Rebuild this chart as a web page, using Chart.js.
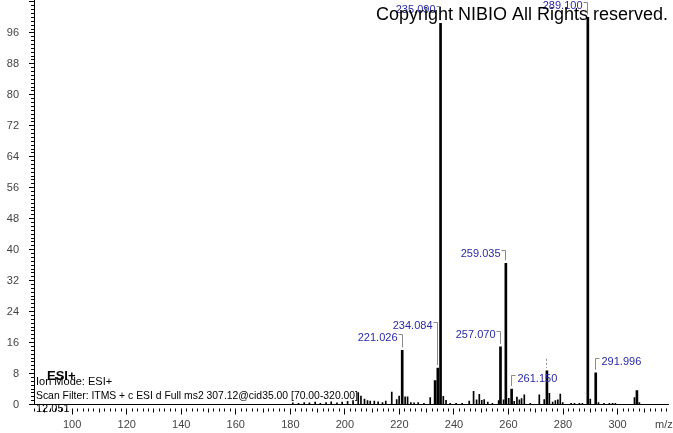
<!DOCTYPE html>
<html><head><meta charset="utf-8">
<script src="https://cdn.jsdelivr.net/npm/chart.js@4.4.0/dist/chart.umd.min.js"></script>
<style>html,body{margin:0;padding:0;background:#fff;}#wrap{width:673px;height:433px;}</style>
</head><body><div id="wrap"><canvas id="c" width="673" height="433"></canvas></div>
<script>
// ---- data ----
const majorMz  = [221.026, 233.1, 234.084, 235.090, 257.070, 259.035, 261.150, 274.1, 289.100, 291.996, 307.1];
const majorInt = [14.0,    6.2,   9.4,     98.5,    14.9,    36.5,    4.0,     8.7,   100,     8.2,     3.6];
const minorMz  = [180.9,183.0,185.1,187.0,189.1,191.0,193.1,195.0,197.1,199.0,201.0,203.0,204.9,205.9,207.2,208.3,209.3,210.8,212.2,213.8,215.0,217.2,219.0,219.9,222.1,223.0,224.2,225.4,226.9,229.0,231.3,236.1,237.1,238.6,240.8,243.0,245.6,247.2,248.3,249.3,250.2,251.1,252.4,254.1,256.4,258.2,260.1,262.1,263.1,264.0,264.8,265.8,268.0,271.3,273.1,275.0,276.2,277.2,278.1,279.0,279.9,283.0,284.2,286.0,287.1,290.0,293.0,295.0,297.0,298.2,299.2,306.2,308.0];
const minorInt = [0.4,  0.3,  0.5,  0.4,  0.6,  0.3,  0.5,  0.7,  0.4,  0.6,  0.8,  1.0,  3.1,  2.2,  1.4,  1.0,  0.9,  0.9,  0.7,  0.5,  0.9,  3.2,  1.3,  2.2,  2.0,  2.0,  0.5,  0.4,  0.5,  0.3,  1.8,  2.1,  1.1,  0.3,  0.3,  0.3,  0.9,  3.4,  1.2,  2.6,  1.1,  1.3,  0.6,  0.3,  1.0,  1.2,  1.6,  0.8,  1.9,  1.2,  1.5,  2.5,  0.3,  2.5,  1.3,  2.9,  0.6,  1.0,  1.2,  2.7,  0.5,  0.3,  0.3,  0.3,  0.3,  1.4,  0.5,  0.3,  0.3,  0.3,  0.3,  1.8,  0.5];
const yTickValues = [0, 8, 16, 24, 32, 40, 48, 56, 64, 72, 80, 88, 96];
const xTickValues = [100, 120, 140, 160, 180, 200, 220, 240, 260, 280, 300];
const peakLabelMz   = [221.026, 234.084, 235.090, 257.070, 259.035, 261.150, 289.100, 291.996];
const peakLabelInt  = [14.0, 9.4, 98.5, 14.9, 36.5, 4.0, 100, 8.2];
const peakLabelText = ['221.026','234.084','235.090','257.070','259.035','261.150','289.100','291.996'];
const stubMz = [274.1], stubInt = [8.7];
const infoLines = ['Ion Mode: ESI+', 'Scan Filter: ITMS + c ESI d Full ms2 307.12@cid35.00 [70.00-320.00]', '12.051'];
const modeText = 'ESI+';
const copyrightText = 'Copyright NIBIO All Rights reserved.';
const xUnit = 'm/z';

// ---- styles ----
const labelSide = ['left','left','left','left','left','right','left','right'];
const labelLift = [12, 42, 13, 12, 9, 10, 11, 11];
const FONT = '"Liberation Sans", Arial, sans-serif';
const BLUE = '#2a2aa6';

const extras = {
  id: 'extras',
  afterDraw(chart) {
    const ctx = chart.ctx, xs = chart.scales.x, ys = chart.scales.y, a = chart.chartArea;
    ctx.save();
    // y minor/major ticks
    ctx.strokeStyle = '#000'; ctx.lineWidth = 1; ctx.beginPath();
    for (let v = 0; v <= 104; v++) {
      const y = Math.floor(ys.getPixelForValue(v)) + 0.5;
      const len = v % 8 === 0 ? 5 : 3;
      ctx.moveTo(a.left - len, y); ctx.lineTo(a.left, y);
    }
    // x ticks (hanging row)
    for (let v = 86; v <= 318; v += 2) {
      const x = Math.floor(xs.getPixelForValue(v)) + 0.5;
      const len = v % 20 === 0 ? 6 : (v % 10 === 0 ? 4 : 3);
      ctx.moveTo(x, a.bottom + 4); ctx.lineTo(x, a.bottom + 4 + len);
    }
    ctx.stroke();

    // peak labels
    ctx.font = '11px ' + FONT; ctx.textBaseline = 'middle';
    for (let i = 0; i < peakLabelMz.length; i++) {
      const px = Math.floor(xs.getPixelForValue(peakLabelMz[i])) + 0.5;
      const top = ys.getPixelForValue(peakLabelInt[i]);
      const ly = Math.round(top - labelLift[i]);
      ctx.strokeStyle = '#8a8a8a'; ctx.beginPath();
      if (labelSide[i] === 'left') {
        ctx.moveTo(px - 4, ly - 3.5); ctx.lineTo(px, ly - 3.5); ctx.lineTo(px, top - 3);
        ctx.stroke();
        ctx.fillStyle = BLUE; ctx.textAlign = 'right';
        ctx.fillText(peakLabelText[i], px - 5, ly);
      } else {
        ctx.moveTo(px + 4, ly - 3.5); ctx.lineTo(px, ly - 3.5); ctx.lineTo(px, top - 3);
        ctx.stroke();
        ctx.fillStyle = BLUE; ctx.textAlign = 'left';
        ctx.fillText(peakLabelText[i], px + 6, ly);
      }
    }
    // stub without label
    ctx.setLineDash([2, 2]); ctx.strokeStyle = '#8a8a8a'; ctx.beginPath();
    for (let i = 0; i < stubMz.length; i++) {
      const px = Math.floor(xs.getPixelForValue(stubMz[i])) + 0.5;
      const top = ys.getPixelForValue(stubInt[i]);
      ctx.moveTo(px, top - 12); ctx.lineTo(px, top - 3);
    }
    ctx.stroke(); ctx.setLineDash([]);

    // copyright
    ctx.fillStyle = '#000'; ctx.textAlign = 'left'; ctx.textBaseline = 'alphabetic';
    ctx.font = '18px ' + FONT;
    ctx.fillText(copyrightText, 376, 20);

    // info block
    ctx.font = 'bold 13px ' + FONT;
    ctx.fillText(modeText, a.left + 13, 380);
    ctx.font = '11px ' + FONT;
    ctx.fillText(infoLines[0], a.left + 2, 385);
    ctx.fillText(infoLines[1], a.left + 2, 399, 322);
    ctx.fillText(infoLines[2], a.left + 2, 412);

    // unit
    ctx.fillStyle = '#444'; ctx.font = '11px ' + FONT; ctx.textBaseline = 'middle';
    ctx.fillText(xUnit, 655, 425);
    ctx.restore();
  }
};

new Chart(document.getElementById('c'), {
  type: 'bar',
  data: {
    datasets: [
      { data: majorMz.map((m, i) => ({ x: m, y: majorInt[i] })), backgroundColor: '#000', barThickness: 2, grouped: false },
      { data: minorMz.map((m, i) => ({ x: m, y: minorInt[i] })), backgroundColor: '#000', barThickness: 1, grouped: false }
    ]
  },
  options: {
    responsive: false, animation: false, devicePixelRatio: 1,
    layout: { padding: { top: 0, right: 5, left: 0, bottom: 0 } },
    plugins: { legend: { display: false }, tooltip: { enabled: false } },
    scales: {
      x: {
        type: 'linear', min: 86, max: 318.5, offset: false,
        grid: { display: false, drawTicks: false },
        border: { display: true, color: '#000', width: 1 },
        ticks: { font: { size: 11, family: FONT }, color: '#444', padding: 14, autoSkip: false, maxRotation: 0, callback: v => String(v) },
        afterBuildTicks: s => { s.ticks = xTickValues.map(v => ({ value: v })); },
        afterFit: s => { s.height = 28.5; s.paddingLeft = 0; s.paddingRight = 0; }
      },
      y: {
        type: 'linear', min: 0, max: 104.5,
        grid: { display: false, drawTicks: false },
        border: { display: true, color: '#000', width: 1 },
        ticks: { font: { size: 11, family: FONT }, color: '#444', padding: 15, autoSkip: false, callback: v => String(v) },
        afterBuildTicks: s => { s.ticks = yTickValues.map(v => ({ value: v })); },
        afterFit: s => { s.width = 34; s.paddingTop = 0; s.paddingBottom = 0; }
      }
    }
  },
  plugins: [extras]
});
</script></body></html>
